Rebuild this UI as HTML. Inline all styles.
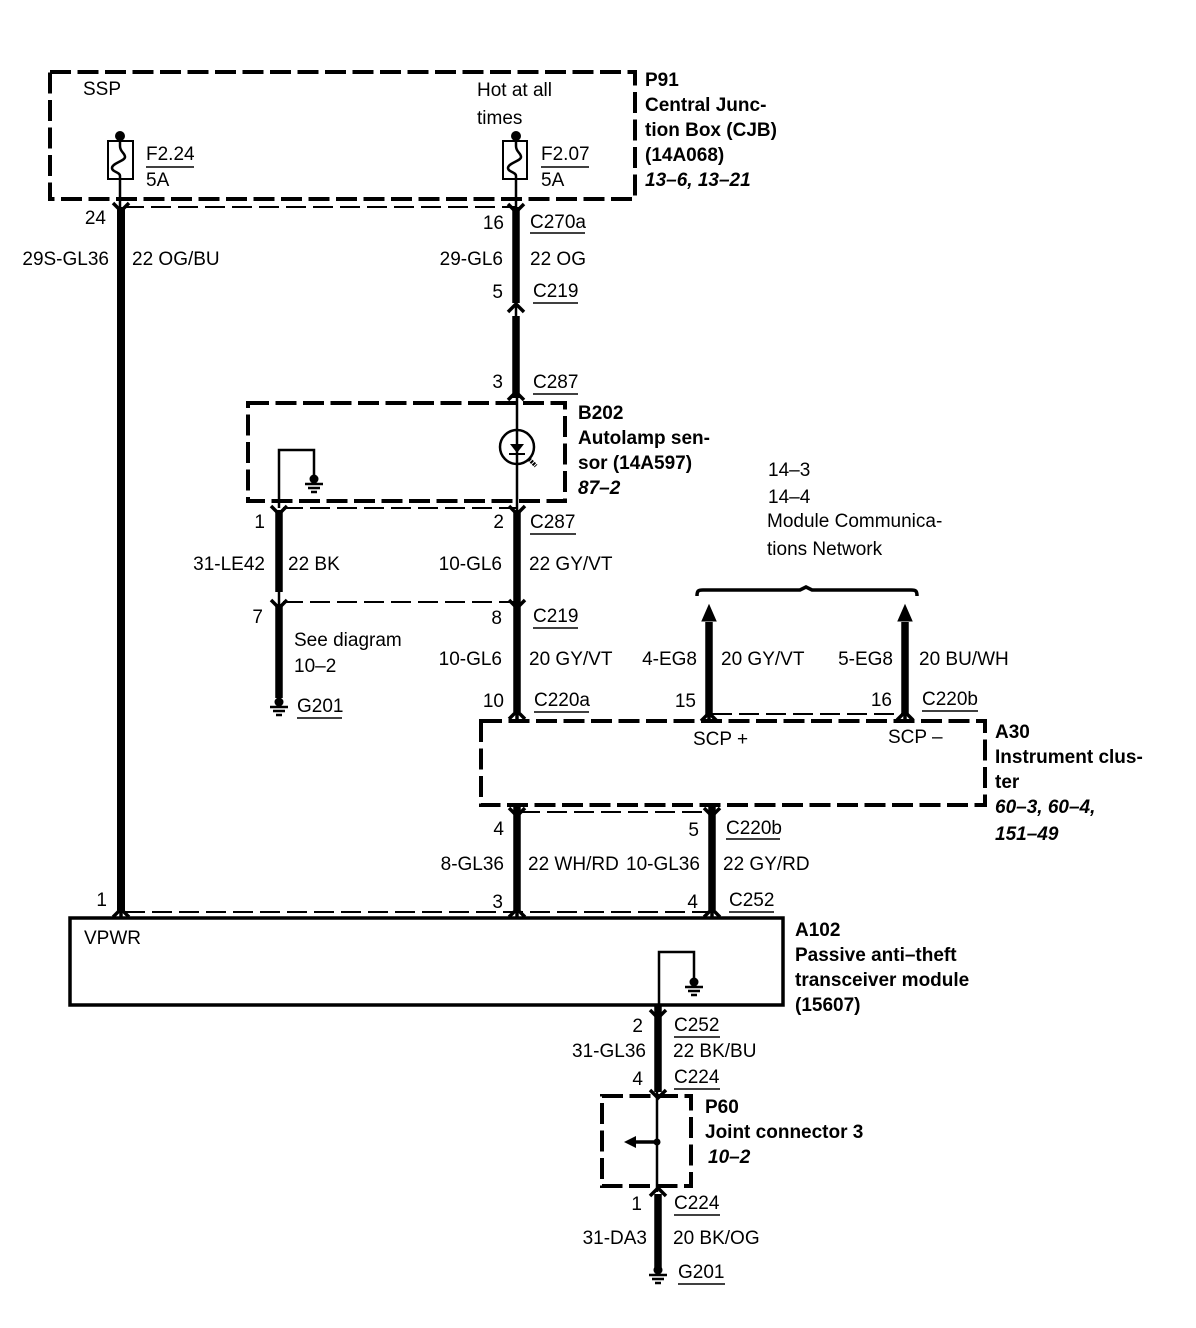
<!DOCTYPE html>
<html><head><meta charset="utf-8"><style>
html,body{margin:0;padding:0;background:#fff}
svg{display:block}
text{font-family:"Liberation Sans",sans-serif;font-size:19px;fill:#000}
.b{font-weight:bold}
.i{font-weight:bold;font-style:italic}
.e{text-anchor:end}
.d{fill:none;stroke:#000;stroke-width:4;stroke-dasharray:21 6.5}
.t{fill:none;stroke:#000;stroke-width:2;stroke-dasharray:20 7}
.w{stroke:#000;stroke-width:7.5;fill:none}
.n{stroke:#000;stroke-width:2.5;fill:none}
.c{stroke:#000;stroke-width:3.5;fill:none}
.u{stroke:#000;stroke-width:1.5}
</style></head><body>
<svg width="1196" height="1328" viewBox="0 0 1196 1328" xmlns="http://www.w3.org/2000/svg">
<defs>
<g id="dn"><path d="M-8 -6 L0 2 L8 -6" class="c"/></g>
<g id="up"><path d="M-8 6 L0 -2 L8 6" class="c"/></g>
<g id="gnd"><circle cx="0" cy="0" r="4.5"/><path d="M-9 5H9M-6 9H6M-3 13H3" stroke="#000" stroke-width="2.5"/></g>
</defs>

<!-- Dashed boxes -->
<rect x="50" y="72" width="585" height="127" class="d"/>
<rect x="248" y="403" width="317" height="98" class="d"/>
<rect x="481" y="721" width="504" height="84" class="d"/>
<rect x="602" y="1096" width="89" height="90" class="d"/>
<rect x="70" y="918" width="713" height="87" fill="none" stroke="#000" stroke-width="3.5"/>

<!-- Thin dashed connector lines -->
<path d="M124 207H516" class="t"/>
<path d="M283 508H517" class="t"/>
<path d="M283 602H517" class="t"/>
<path d="M712 714H905" class="t"/>
<path d="M520 812H712" class="t"/>
<path d="M125 912H712" class="t"/>

<!-- Fuses -->
<circle cx="120" cy="136" r="5"/>
<circle cx="516" cy="136" r="5"/>
<rect x="108" y="141" width="25" height="38" fill="#fff" stroke="#000" stroke-width="2"/>
<rect x="503" y="141" width="24" height="38" fill="#fff" stroke="#000" stroke-width="2"/>
<path d="M120 136V146C120 152 125 153 125 157C125 161 112 163 112 168C112 172 120 172 120 176V207" class="n"/>
<path d="M516 136V146C516 152 521 153 521 157C521 161 508 163 508 168C508 172 516 172 516 176V207" class="n"/>

<!-- Wires -->
<path d="M121 207V912" class="w" style="stroke-width:8"/>
<use href="#dn" x="121" y="209"/><use href="#up" x="121" y="911"/><path d="M121 905V918" class="c"/>
<path d="M516 207V303M516 316V398" class="w"/><path d="M516 300V320" class="n"/>
<use href="#dn" x="516" y="210"/><use href="#up" x="516" y="306"/><use href="#up" x="516" y="394"/>
<path d="M517 395V510" class="n"/>
<path d="M517 510V712" class="w"/>
<use href="#dn" x="517" y="512"/><use href="#dn" x="517" y="606"/><use href="#up" x="517" y="713"/>
<path d="M517 712V721" class="c"/>
<path d="M279 510V592M279 604V698" class="w"/><path d="M279 590V606" class="n"/>
<use href="#dn" x="279" y="512"/><use href="#dn" x="279" y="606"/>
<path d="M279 508V450H314V478" class="n"/>
<use href="#gnd" x="314" y="479"/>
<use href="#gnd" x="279" y="702"/>
<!-- Photodiode -->
<circle cx="517" cy="447" r="17" fill="none" stroke="#000" stroke-width="2.5"/>
<path d="M510 444H524L517 453Z"/><path d="M509 454H525" stroke="#000" stroke-width="2"/>
<path d="M529 459L536 466" stroke="#000" stroke-width="4" stroke-dasharray="2 1"/>
<!-- SCP arrows -->
<path d="M709 622V716" class="w"/><path d="M709 605L716 621H702Z" stroke="#000"/>
<path d="M905 622V716" class="w"/><path d="M905 605L912 621H898Z" stroke="#000"/>
<use href="#up" x="709" y="715"/><use href="#up" x="905" y="714"/>
<path d="M709 716V721M905 716V721" class="c"/>
<path d="M697 596C697 591 698 590 703 590H800L806 587L812 590H911C916 590 917 591 917 596" class="c"/>
<!-- Lower wires -->
<path d="M517 807V910" class="w"/><path d="M712 807V910" class="w"/>
<use href="#dn" x="517" y="814"/><use href="#dn" x="712" y="814"/>
<use href="#up" x="517" y="911"/><use href="#up" x="712" y="911"/>
<path d="M517 908V918M712 908V918" class="c"/>
<!-- A102 inner -->
<path d="M659 1005V952H694V983" class="n"/>
<use href="#gnd" x="694" y="982"/>
<!-- bottom -->
<path d="M658 1006V1092" class="w"/>
<use href="#dn" x="658" y="1016"/><use href="#dn" x="658" y="1096"/>
<path d="M657 1092V1192" class="n"/>
<circle cx="657" cy="1142" r="3.5"/>
<path d="M657 1142H632" class="c"/><path d="M624 1142L636 1136V1148Z"/>
<use href="#up" x="658" y="1190"/>
<path d="M658 1194V1269" class="w"/>
<use href="#gnd" x="658" y="1270"/>

<!-- Underlines -->
<g class="u">
<path d="M146 167H194M541 167H589M530 233H585M533 303H578M533 394H578M530 534H576M533 628H578M534 712H589M922 711H978M726 839H780M729 912H774M674 1037H720M674 1089H720M674 1215H720M678 1284H725M297 718H342"/>
</g>

<!-- Labels -->
<text x="83" y="95">SSP</text>
<text x="477" y="96">Hot at all</text>
<text x="477" y="124">times</text>
<text x="146" y="160">F2.24</text>
<text x="146" y="186">5A</text>
<text x="541" y="160">F2.07</text>
<text x="541" y="186">5A</text>
<text class="b" x="645" y="86">P91</text>
<text class="b" x="645" y="111">Central Junc-</text>
<text class="b" x="645" y="136">tion Box (CJB)</text>
<text class="b" x="645" y="161">(14A068)</text>
<text class="i" x="645" y="186">13–6, 13–21</text>

<text class="e" x="106" y="224">24</text>
<text class="e" x="109" y="265">29S-GL36</text>
<text x="132" y="265">22 OG/BU</text>
<text class="e" x="504" y="229">16</text>
<text x="530" y="228">C270a</text>
<text class="e" x="503" y="265">29-GL6</text>
<text x="530" y="265">22 OG</text>
<text class="e" x="503" y="298">5</text>
<text x="533" y="297">C219</text>
<text class="e" x="503" y="388">3</text>
<text x="533" y="388">C287</text>

<text class="b" x="578" y="419">B202</text>
<text class="b" x="578" y="444">Autolamp sen-</text>
<text class="b" x="578" y="469">sor (14A597)</text>
<text class="i" x="578" y="494">87–2</text>

<text x="768" y="476">14–3</text>
<text x="768" y="503">14–4</text>
<text x="767" y="527">Module Communica-</text>
<text x="767" y="555">tions Network</text>

<text class="e" x="265" y="528">1</text>
<text class="e" x="504" y="528">2</text>
<text x="530" y="528">C287</text>
<text class="e" x="265" y="570">31-LE42</text>
<text x="288" y="570">22 BK</text>
<text class="e" x="502" y="570">10-GL6</text>
<text x="529" y="570">22 GY/VT</text>
<text class="e" x="263" y="623">7</text>
<text class="e" x="502" y="624">8</text>
<text x="533" y="622">C219</text>
<text x="294" y="646">See diagram</text>
<text x="294" y="672">10–2</text>
<text x="297" y="712">G201</text>

<text class="e" x="502" y="665">10-GL6</text>
<text x="529" y="665">20 GY/VT</text>
<text class="e" x="697" y="665">4-EG8</text>
<text x="721" y="665">20 GY/VT</text>
<text class="e" x="893" y="665">5-EG8</text>
<text x="919" y="665">20 BU/WH</text>
<text class="e" x="504" y="707">10</text>
<text x="534" y="706">C220a</text>
<text class="e" x="696" y="707">15</text>
<text class="e" x="892" y="706">16</text>
<text x="922" y="705">C220b</text>
<text x="693" y="745">SCP +</text>
<text x="888" y="743">SCP –</text>
<text class="b" x="995" y="763">Instrument clus-</text>
<text class="b" x="995" y="738">A30</text>
<text class="b" x="995" y="788">ter</text>
<text class="i" x="995" y="813">60–3, 60–4,</text>
<text class="i" x="995" y="840">151–49</text>

<text class="e" x="504" y="835">4</text>
<text class="e" x="699" y="836">5</text>
<text x="726" y="834">C220b</text>
<text class="e" x="504" y="870">8-GL36</text>
<text x="528" y="870">22 WH/RD</text>
<text x="626" y="870">10-GL36</text>
<text x="723" y="870">22 GY/RD</text>
<text class="e" x="503" y="908">3</text>
<text class="e" x="698" y="908">4</text>
<text x="729" y="906">C252</text>
<text class="e" x="107" y="906">1</text>
<text x="84" y="944">VPWR</text>

<text class="b" x="795" y="936">A102</text>
<text class="b" x="795" y="961">Passive anti–theft</text>
<text class="b" x="795" y="986">transceiver module</text>
<text class="b" x="795" y="1011">(15607)</text>

<text class="e" x="643" y="1032">2</text>
<text x="674" y="1031">C252</text>
<text class="e" x="646" y="1057">31-GL36</text>
<text x="673" y="1057">22 BK/BU</text>
<text class="e" x="643" y="1085">4</text>
<text x="674" y="1083">C224</text>
<text class="b" x="705" y="1113">P60</text>
<text class="b" x="705" y="1138">Joint connector 3</text>
<text class="i" x="708" y="1163">10–2</text>
<text class="e" x="642" y="1210">1</text>
<text x="674" y="1209">C224</text>
<text class="e" x="647" y="1244">31-DA3</text>
<text x="673" y="1244">20 BK/OG</text>
<text x="678" y="1278">G201</text>
</svg>
</body></html>
